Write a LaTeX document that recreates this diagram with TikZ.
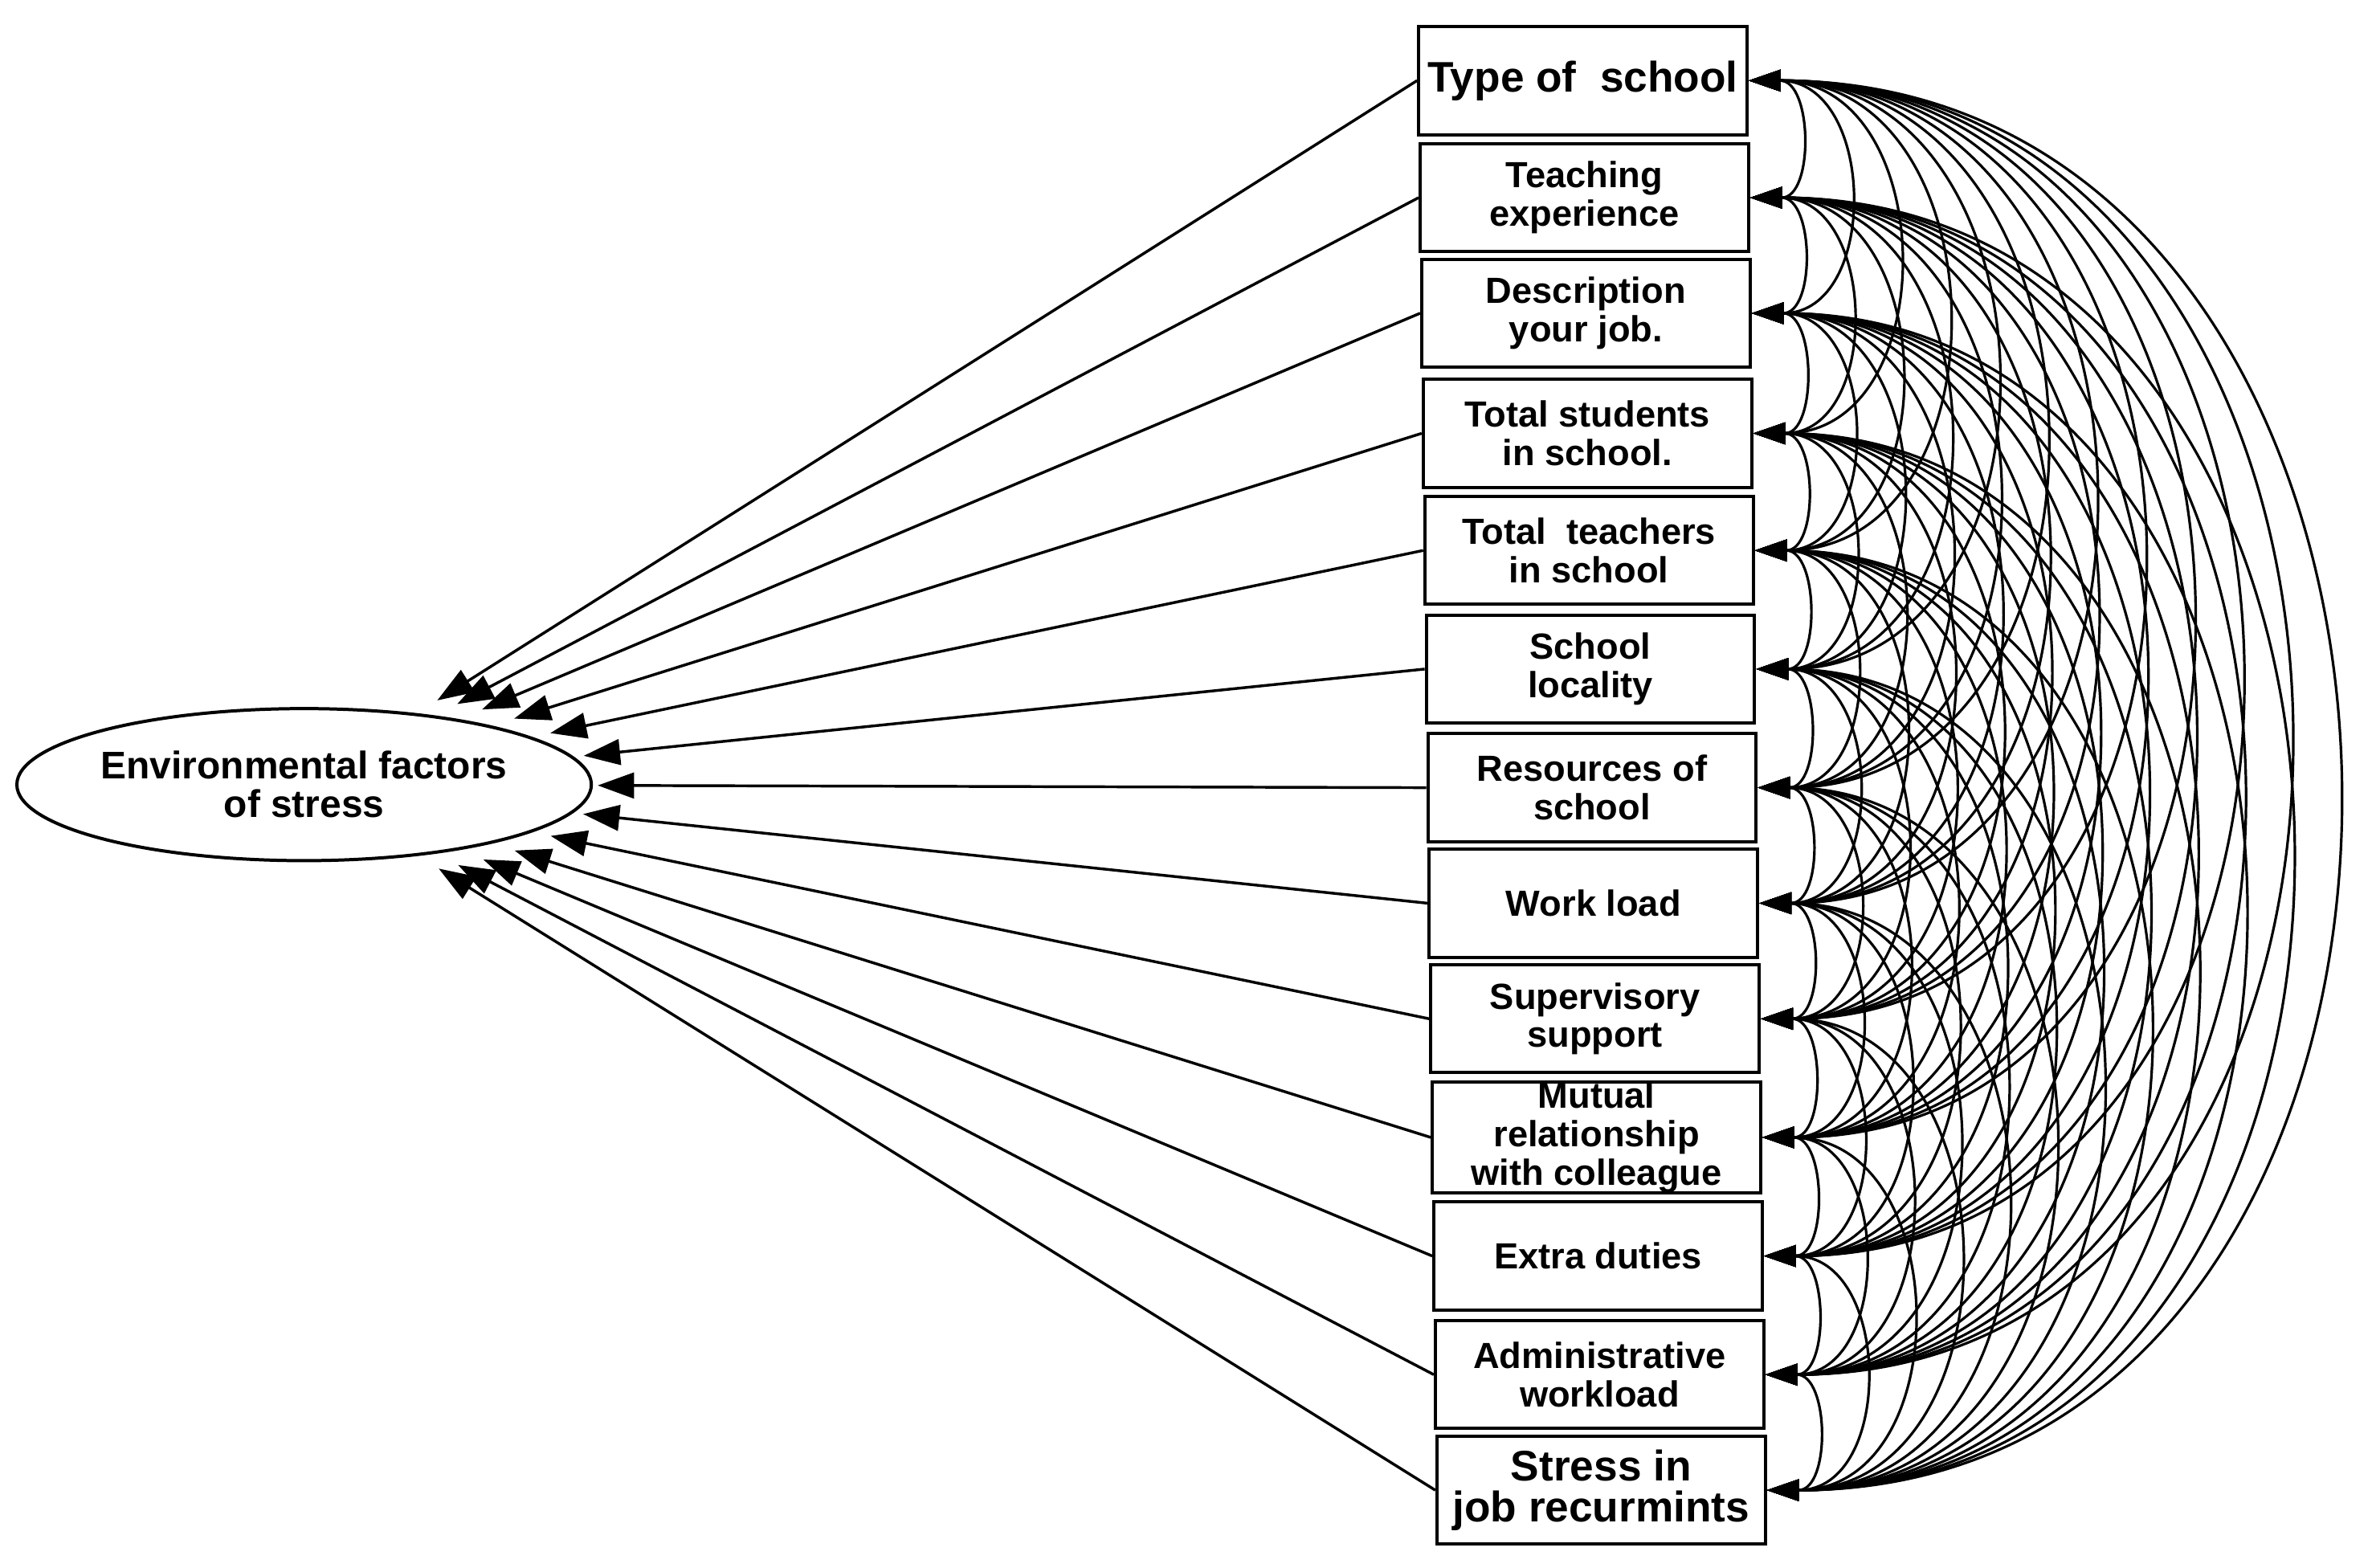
\documentclass[tikz,border=0pt]{standalone}
\usepackage{fontspec}
\setmainfont{Liberation Sans}
\usetikzlibrary{arrows.meta,shapes.geometric}
\begin{document}
\begin{tikzpicture}[x=0.05cm,y=-0.05cm,
  box/.style={draw,line width=3pt,minimum width=10.8cm,minimum height=3.55cm,align=center,inner sep=0pt,font=\fontsize{34}{36}\selectfont\bfseries},
  big/.style={font=\fontsize{40}{38}\selectfont\bfseries},
  arr/.style={line width=2.6pt,-{Triangle[length=34pt,width=24pt]}},
  cov/.style={line width=2.4pt,{Triangle[length=30pt,width=20pt]}-{Triangle[length=30pt,width=20pt]}}]
\useasboundingbox (0,0) rectangle (1560,1031);
\node[draw,ellipse,line width=3pt,inner sep=0pt,minimum width=18.7cm,minimum height=5cm,align=center,font=\fontsize{36}{36}\selectfont\bfseries] (e) at (200,516) {Environmental factors\\of stress};
\node[ellipse,minimum width=19.3cm,minimum height=6.2cm] (t) at (200,516) {};
\foreach \i/\y/\t/\s in {1/53/{Type of\ \ school}/big,2/130/{Teaching\\experience}/,3/206/{Description\\your job.}/,4/285/{Total students\\in school.}/,5/362/{Total\ \ teachers\\in school}/,6/440/{School\\locality}/,7/518/{Resources of\\school}/,8/594/{Work load}/,9/670/{Supervisory\\support}/,10/748/{Mutual\\relationship\\with colleague}/,11/826/{Extra duties}/,12/904/{Administrative\\workload}/,13/980/{Stress in\\job recurmints}/big}{
  \node[box,\s] (b\i) at ({1040+\i*1},\y) {\t};
  \draw[arr] (b\i.west) -- (t);
}
\foreach \i in {1,...,12}{
  \pgfmathtruncatemacro{\n}{\i+1}
  \foreach \j in {\n,...,13}{
    \pgfmathsetmacro{\c}{(\j-\i)*78*0.54}
    \draw[cov] (b\i.east) .. controls +(\c,0) and +(\c,0) .. (b\j.east);
  }
}
\end{tikzpicture}
\end{document}
